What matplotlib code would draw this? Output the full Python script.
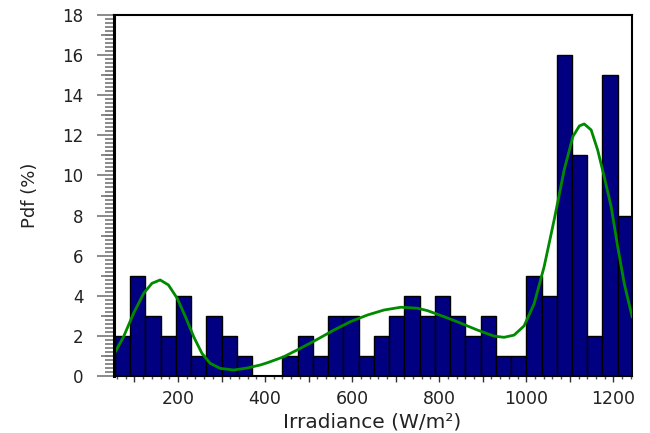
import matplotlib
matplotlib.use("Agg")
import matplotlib.pyplot as plt
from matplotlib.ticker import MultipleLocator, FuncFormatter

# histogram of irradiance, 35 W/m2 bins starting at 55 W/m2
bin_start = 55
bin_width = 35
pdf_percent = [2, 5, 3, 2, 4, 1, 3, 2, 1, 0, 0, 1, 2, 1, 3, 3, 1, 2, 3,
               4, 3, 4, 3, 2, 3, 1, 1, 5, 4, 16, 11, 2, 15, 8]

# fitted density curve
fit_x = [52, 75, 98, 121, 140, 159, 178, 198, 217, 236,
         255, 274, 297, 328, 359, 389, 405, 443, 481, 520,
         558, 596, 635, 673, 712, 750, 773, 811, 850, 888,
         926, 949, 972, 995, 1018, 1041, 1064, 1087, 1107, 1122,
         1133, 1149, 1164, 1179, 1195, 1210, 1225, 1243]
fit_y = [1.05, 1.96, 3.13, 4.12, 4.62, 4.79, 4.54, 3.88, 2.96, 1.96,
         1.13, 0.63, 0.38, 0.30, 0.40, 0.55, 0.66, 0.96, 1.38, 1.83,
         2.29, 2.71, 3.04, 3.29, 3.43, 3.38, 3.26, 2.96, 2.63, 2.29,
         1.99, 1.93, 2.04, 2.50, 3.60, 5.45, 7.78, 10.27, 11.94, 12.47,
         12.57, 12.27, 11.27, 9.94, 8.44, 6.45, 4.62, 2.96]

lefts = [bin_start + i * bin_width for i in range(len(pdf_percent))]

fig = plt.figure(figsize=(6.5, 4.33), dpi=100)
ax = fig.add_axes([0.1754, 0.1316, 0.797, 0.8337])

ax.bar(lefts, pdf_percent, width=bin_width, align="edge",
       color="#000080", edgecolor="black", linewidth=1.0, zorder=2)
ax.plot(fit_x, fit_y, color="#008a00", linewidth=2.0, zorder=3)

ax.set_xlim(53, 1243)
ax.set_ylim(0, 18)

# x ticks: long every 100, short every 20, labels every 200
ax.xaxis.set_major_locator(MultipleLocator(100))
ax.xaxis.set_minor_locator(MultipleLocator(20))
ax.xaxis.set_major_formatter(
    FuncFormatter(lambda v, p: f"{int(v)}" if int(v) % 200 == 0 else ""))
ax.tick_params(axis="x", which="major", length=4, width=1, color="#333333",
               pad=6, labelsize=12.5, labelcolor="#222222")
ax.tick_params(axis="x", which="minor", length=2, width=1, color="#555555")

# y ticks: labelled every 2, extra marks every 1 and every 0.2
ax.yaxis.set_major_locator(MultipleLocator(2))
ax.yaxis.set_minor_locator(MultipleLocator(0.2))
ax.tick_params(axis="y", which="major", length=12, width=1.2, color="#777777",
               pad=10, labelsize=12, labelcolor="#222222")
ax.tick_params(axis="y", which="minor", length=6.5, width=1.2, color="#777777")

sec = ax.secondary_yaxis("left")
sec.set_yticks(list(range(1, 18, 2)))
sec.tick_params(axis="y", length=9.5, width=1.2, color="#777777",
                labelleft=False)
sec.spines["left"].set_visible(False)

for side in ["top", "right", "bottom"]:
    ax.spines[side].set_linewidth(1.5)
    ax.spines[side].set_color("black")
ax.spines["left"].set_linewidth(2.2)
ax.spines["left"].set_color("black")
ax.spines["left"].set_zorder(5)

ax.set_xlabel("Irradiance (W/m²)", fontsize=14.5, color="#222222")
ax.set_ylabel("Pdf (%)", fontsize=13, color="#222222")
ax.xaxis.set_label_coords(0.498, -0.102)
ax.yaxis.set_label_coords(-0.145, 0.5)

fig.savefig("out.png", dpi=100)
